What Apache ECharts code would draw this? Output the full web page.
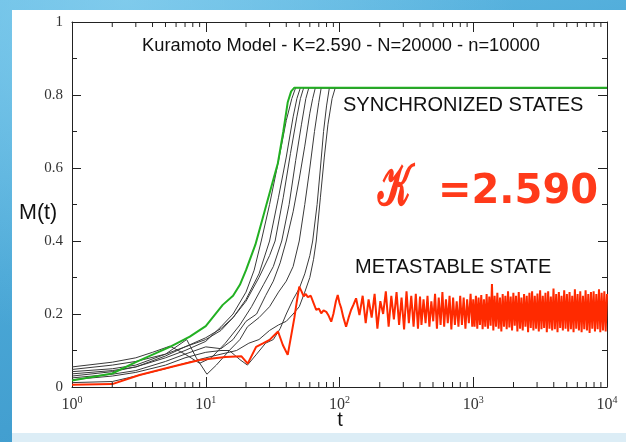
<!DOCTYPE html>
<html>
<head>
<meta charset="utf-8">
<script src="https://cdn.jsdelivr.net/npm/echarts@6/dist/echarts.min.js"></script>
<style>
  html, body { margin: 0; padding: 0; width: 626px; height: 442px; overflow: hidden; }
  body {
    background:
      radial-gradient(ellipse at 20% 0%, rgba(140, 210, 240, 0.7) 0%, rgba(140, 210, 240, 0) 55%),
      linear-gradient(165deg, #63bbe4 0%, #4aa7d6 45%, #3b96c9 100%);
  }
  #panel { position: absolute; left: 12px; top: 10px; width: 614px; height: 423px; background: #fff; }
  #foot { position: absolute; left: 12px; top: 433px; width: 614px; height: 9px; background: #dcedf6; }
  #chart { position: absolute; left: 0; top: 0; width: 626px; height: 442px; }
</style>
</head>
<body>
<div id="panel"></div>
<div id="foot"></div>
<div id="chart"></div>
<script>
// Axis labels
const xExponents = ['0', '1', '2', '3', '4'];
const yTickLabels = ['0', '0.2', '0.4', '0.6', '0.8', '1'];
const minorTickT = [2, 3, 4, 5, 6, 7, 8, 9, 20, 30, 40, 50, 60, 70, 80, 90,
  200, 300, 400, 500, 600, 700, 800, 900, 2000, 3000, 4000, 5000, 6000, 7000, 8000, 9000];

// Synchronising runs, M(t) as [t, M]
const runA = [[1, 0.036], [2, 0.045], [3, 0.055], [5, 0.08], [7, 0.1], [10, 0.125], [13, 0.165], [16, 0.2],
  [20, 0.26], [23, 0.32], [26, 0.4], [30, 0.5], [35, 0.62], [40, 0.73], [44, 0.79], [47, 0.82], [10000, 0.82]];
const runB = [[1, 0.048], [2, 0.06], [3, 0.07], [5, 0.09], [7, 0.11], [10, 0.135], [13, 0.16], [16, 0.19],
  [20, 0.24], [25, 0.31], [30, 0.4], [35, 0.52], [40, 0.63], [45, 0.74], [48, 0.79], [51, 0.82], [10000, 0.82]];
const runC = [[1, 0.03], [2, 0.042], [3, 0.055], [5, 0.085], [7, 0.11], [10, 0.13], [13, 0.155], [16, 0.19],
  [20, 0.235], [25, 0.3], [30, 0.36], [33, 0.4], [38, 0.52], [43, 0.64], [48, 0.74], [51, 0.79], [54, 0.82], [10000, 0.82]];
const runD = [[1, 0.055], [2, 0.068], [3, 0.08], [4, 0.095], [5.4, 0.112], [7, 0.09], [9, 0.065], [11, 0.08],
  [14, 0.12], [18, 0.17], [22, 0.22], [27, 0.28], [32, 0.33], [37, 0.4], [42, 0.5], [47, 0.62], [52, 0.72],
  [56, 0.79], [59, 0.82], [10000, 0.82]];
const runE = [[1, 0.025], [2, 0.035], [3, 0.045], [5, 0.07], [7, 0.09], [10, 0.11], [13, 0.105], [16, 0.13],
  [20, 0.18], [24, 0.2], [28, 0.25], [32, 0.29], [36, 0.34], [40, 0.4], [45, 0.48], [50, 0.57], [55, 0.66],
  [60, 0.75], [63, 0.79], [66, 0.82], [10000, 0.82]];
const runF = [[1, 0.042], [2, 0.05], [3, 0.06], [5, 0.09], [7.2, 0.13], [8.5, 0.08], [10.2, 0.035], [12, 0.06],
  [15, 0.1], [18, 0.13], [20.5, 0.165], [25, 0.19], [30, 0.22], [35, 0.26], [40, 0.29], [45, 0.33], [50, 0.4],
  [55, 0.5], [60, 0.6], [65, 0.7], [70, 0.78], [73, 0.82], [10000, 0.82]];
const runG = [[1, 0.02], [2, 0.03], [3, 0.04], [5, 0.06], [7, 0.08], [10, 0.095], [13, 0.1], [15, 0.1],
  [18, 0.075], [20.5, 0.06], [24, 0.09], [28, 0.12], [32, 0.13], [36, 0.16], [40, 0.2], [45, 0.24], [50, 0.27],
  [55, 0.31], [60, 0.36], [63, 0.4], [68, 0.5], [72, 0.6], [76, 0.7], [80, 0.77], [84, 0.82], [10000, 0.82]];
const runH = [[1, 0.012], [2, 0.015], [3, 0.03], [5, 0.05], [7, 0.065], [10, 0.08], [13, 0.09], [17, 0.1],
  [21, 0.12], [25, 0.13], [30, 0.155], [35, 0.17], [40, 0.18], [45, 0.2], [50, 0.22], [55, 0.26], [60, 0.3],
  [64, 0.35], [67, 0.4], [72, 0.52], [77, 0.63], [82, 0.72], [88, 0.79], [93, 0.82], [10000, 0.82]];
const greenRun = [[1, 0.018], [2, 0.037], [3, 0.068], [5.4, 0.11], [7.6, 0.138], [10, 0.167], [13.4, 0.225],
  [16, 0.25], [18, 0.28], [20, 0.32], [23.5, 0.39], [27, 0.47], [31, 0.55], [34.6, 0.613], [38, 0.7],
  [41, 0.78], [43.5, 0.81], [46, 0.82], [10000, 0.82]];

// Metastable run
const redT = [1, 2, 3.2, 5.4, 9, 14, 18.5, 20.6, 23.8, 27, 30, 34.7, 37.7, 41, 43.5, 46, 48, 50, 52, 54, 56, 58,
  61, 64, 67, 70, 73, 76, 79.6, 83, 86.7, 90, 94, 97, 100, 103, 107, 112, 117, 122, 127, 133, 137, 141,
  149, 157, 165, 174, 183, 192, 202, 212, 222, 233, 244, 255, 267, 279, 291, 304, 317, 330, 344, 358, 372, 386, 400,
  410, 425, 440, 455, 470, 486, 502, 518, 535, 552, 570, 588, 606, 625, 645, 665, 686, 707, 729, 752, 775, 799,
  823, 848, 874, 900, 927, 955, 983,
  1000, 1023, 1047, 1072, 1096, 1122, 1148, 1175, 1202, 1230, 1259, 1288, 1318, 1349, 1380, 1413, 1445, 1479,
  1514, 1549, 1585, 1622, 1660, 1698, 1738, 1778, 1820, 1862, 1905, 1950, 1995, 2042, 2089, 2138, 2188, 2239,
  2291, 2344, 2399, 2455, 2512, 2570, 2630, 2692, 2754, 2818, 2884, 2951, 3020, 3090, 3162, 3236, 3311, 3388,
  3467, 3548, 3631, 3715, 3802, 3890, 3981, 4074, 4169, 4266, 4365, 4467, 4571, 4677, 4786, 4898, 5012, 5129,
  5248, 5370, 5495, 5623, 5754, 5888, 6026, 6166, 6310, 6457, 6607, 6761, 6918, 7079, 7244, 7413, 7586, 7762,
  7943, 8128, 8318, 8511, 8710, 8913, 9120, 9333, 9550, 9772, 10000];
const redM = [0.006, 0.008, 0.033, 0.054, 0.074, 0.082, 0.084, 0.064, 0.11, 0.12, 0.129, 0.152, 0.115, 0.088,
  0.14, 0.19, 0.235, 0.275, 0.262, 0.248, 0.255, 0.246, 0.25, 0.23, 0.211, 0.215, 0.202, 0.21, 0.206, 0.195,
  0.179, 0.2, 0.235, 0.252, 0.23, 0.216, 0.19, 0.165, 0.19, 0.211, 0.225, 0.243, 0.22, 0.197,
  0.25, 0.175, 0.24, 0.19, 0.255, 0.16, 0.235, 0.2, 0.262, 0.165, 0.25, 0.185, 0.26, 0.17, 0.245, 0.158, 0.262,
  0.175, 0.25, 0.165, 0.255, 0.16, 0.248,
  0.17, 0.24, 0.175, 0.25, 0.165, 0.235, 0.18, 0.255, 0.16, 0.245, 0.17, 0.26, 0.165, 0.24, 0.175, 0.25, 0.158,
  0.245, 0.17, 0.235, 0.165, 0.25, 0.17, 0.245, 0.16, 0.24, 0.175, 0.255, 0.165,
  0.24, 0.165, 0.25, 0.16, 0.245, 0.17, 0.252, 0.158, 0.24, 0.165, 0.255, 0.16, 0.248, 0.168, 0.282, 0.155,
  0.25, 0.165, 0.258, 0.16, 0.245, 0.152, 0.255, 0.165, 0.25, 0.158, 0.262, 0.163, 0.248, 0.155, 0.258, 0.168,
  0.25, 0.152, 0.26, 0.16, 0.245, 0.155, 0.255, 0.165, 0.25, 0.15, 0.258, 0.162, 0.262, 0.155, 0.25, 0.16,
  0.256, 0.152, 0.265, 0.158, 0.25, 0.162, 0.258, 0.15, 0.262, 0.16, 0.248, 0.155, 0.27, 0.158, 0.255, 0.15,
  0.26, 0.162, 0.25, 0.155, 0.265, 0.16, 0.255, 0.152, 0.26, 0.158, 0.25, 0.15, 0.268, 0.16, 0.255, 0.155,
  0.262, 0.15, 0.25, 0.158, 0.265, 0.155, 0.255, 0.148, 0.26, 0.16, 0.262, 0.152, 0.255, 0.158, 0.268, 0.15,
  0.258, 0.155, 0.262, 0.152, 0.255];

const blackRuns = [runA, runB, runC, runD, runE, runF, runG, runH];
const redRun = redT.map((t, i) => [t, redM[i]]);

const sansFont = '"Liberation Sans", Arial, sans-serif';
const serifFont = '"Liberation Serif", "Times New Roman", serif';

const chart = echarts.init(document.getElementById('chart'), null, { renderer: 'canvas' });

const lineSeries = (data, color, width, z) => ({
  type: 'line', data, showSymbol: false, symbol: 'none', smooth: false, silent: true, z,
  lineStyle: { color, width }, animation: false
});

const series = [];
blackRuns.forEach(r => series.push(lineSeries(r, '#3a3a3a', 1, 2)));
series.push(lineSeries(greenRun, '#22b022', 2, 3));
series.push(lineSeries(redRun, '#ff2a00', 2, 4));

// Minor ticks of the logarithmic time axis, on top and bottom edges
series.push({
  type: 'custom', silent: true, z: 5, animation: false,
  data: minorTickT.map(t => [t, 0]),
  renderItem: (params, api) => {
    const t = api.value(0);
    const bottom = api.coord([t, 0]);
    const top = api.coord([t, 1]);
    return {
      type: 'group',
      children: [
        { type: 'line', shape: { x1: bottom[0], y1: bottom[1], x2: bottom[0], y2: bottom[1] - 5 },
          style: { stroke: '#222', lineWidth: 1 } },
        { type: 'line', shape: { x1: top[0], y1: top[1], x2: top[0], y2: top[1] + 5 },
          style: { stroke: '#222', lineWidth: 1 } }
      ]
    };
  }
});

const logAxis = (position, showLabel) => ({
  type: 'log', logBase: 10, min: 1, max: 10000, position,
  axisLine: { show: true, onZero: false, lineStyle: { color: '#222', width: 1 } },
  axisTick: { show: true, inside: true, length: 10, lineStyle: { color: '#222' } },
  splitLine: { show: false },
  axisLabel: {
    show: showLabel, margin: 8,
    formatter: v => '{b|10}{s|' + xExponents[Math.round(Math.log10(v))] + '}',
    rich: {
      b: { fontFamily: serifFont, fontSize: 16, color: '#333', verticalAlign: 'bottom', lineHeight: 18 },
      s: { fontFamily: serifFont, fontSize: 10, color: '#333', verticalAlign: 'top', lineHeight: 18, padding: [0, 0, 8, 0] }
    }
  }
});

const valAxis = (position, showLabel) => ({
  type: 'value', min: 0, max: 1, interval: 0.2, position,
  axisLine: { show: true, onZero: false, lineStyle: { color: '#222', width: 1 } },
  axisTick: { show: true, inside: true, length: 9, lineStyle: { color: '#222' } },
  minorTick: { show: true, splitNumber: 2, length: 5, lineStyle: { color: '#222' } },
  splitLine: { show: false },
  axisLabel: {
    show: showLabel, margin: 9, fontFamily: serifFont, fontSize: 15, color: '#333',
    formatter: v => yTickLabels[Math.round(v * 5)]
  }
});

const text = (str, x, y, opts, extra) => Object.assign({
  type: 'text', x, y, silent: true, z: 10,
  style: Object.assign({ text: str, fill: '#111', font: '20px ' + sansFont, textVerticalAlign: 'middle' }, opts)
}, extra || {});

chart.setOption({
  animation: false,
  backgroundColor: 'transparent',
  grid: { left: 72, top: 22, right: 19, bottom: 55, containLabel: false },
  xAxis: [logAxis('bottom', true), logAxis('top', false)],
  yAxis: [valAxis('left', true), valAxis('right', false)],
  series,
  graphic: [
    text('Kuramoto Model - K=2.590 - N=20000 - n=10000', 341, 46, { textAlign: 'center', font: '18.3px ' + sansFont }),
    text('SYNCHRONIZED STATES', 343, 105, { textAlign: 'left', font: '20px ' + sansFont }),
    text('METASTABLE STATE', 355, 267, { textAlign: 'left', font: '20px ' + sansFont }),
    text('M(t)', 19, 213, { textAlign: 'left', font: '21.5px ' + sansFont }),
    text('t', 340, 420, { textAlign: 'center', font: '20px ' + sansFont }),
    text('\u{1D4A6}', 378, 190, { textAlign: 'left', fill: '#ff3a1a', stroke: '#ff3a1a', lineWidth: 2.5,
      font: '58px "DejaVu Serif", serif' }, { scaleX: 0.6 }),
    text('=2.590', 438, 193, { textAlign: 'left', fill: '#ff3a1a', font: 'bold 40px "DejaVu Sans", sans-serif' })
  ]
});
</script>
</body>
</html>
